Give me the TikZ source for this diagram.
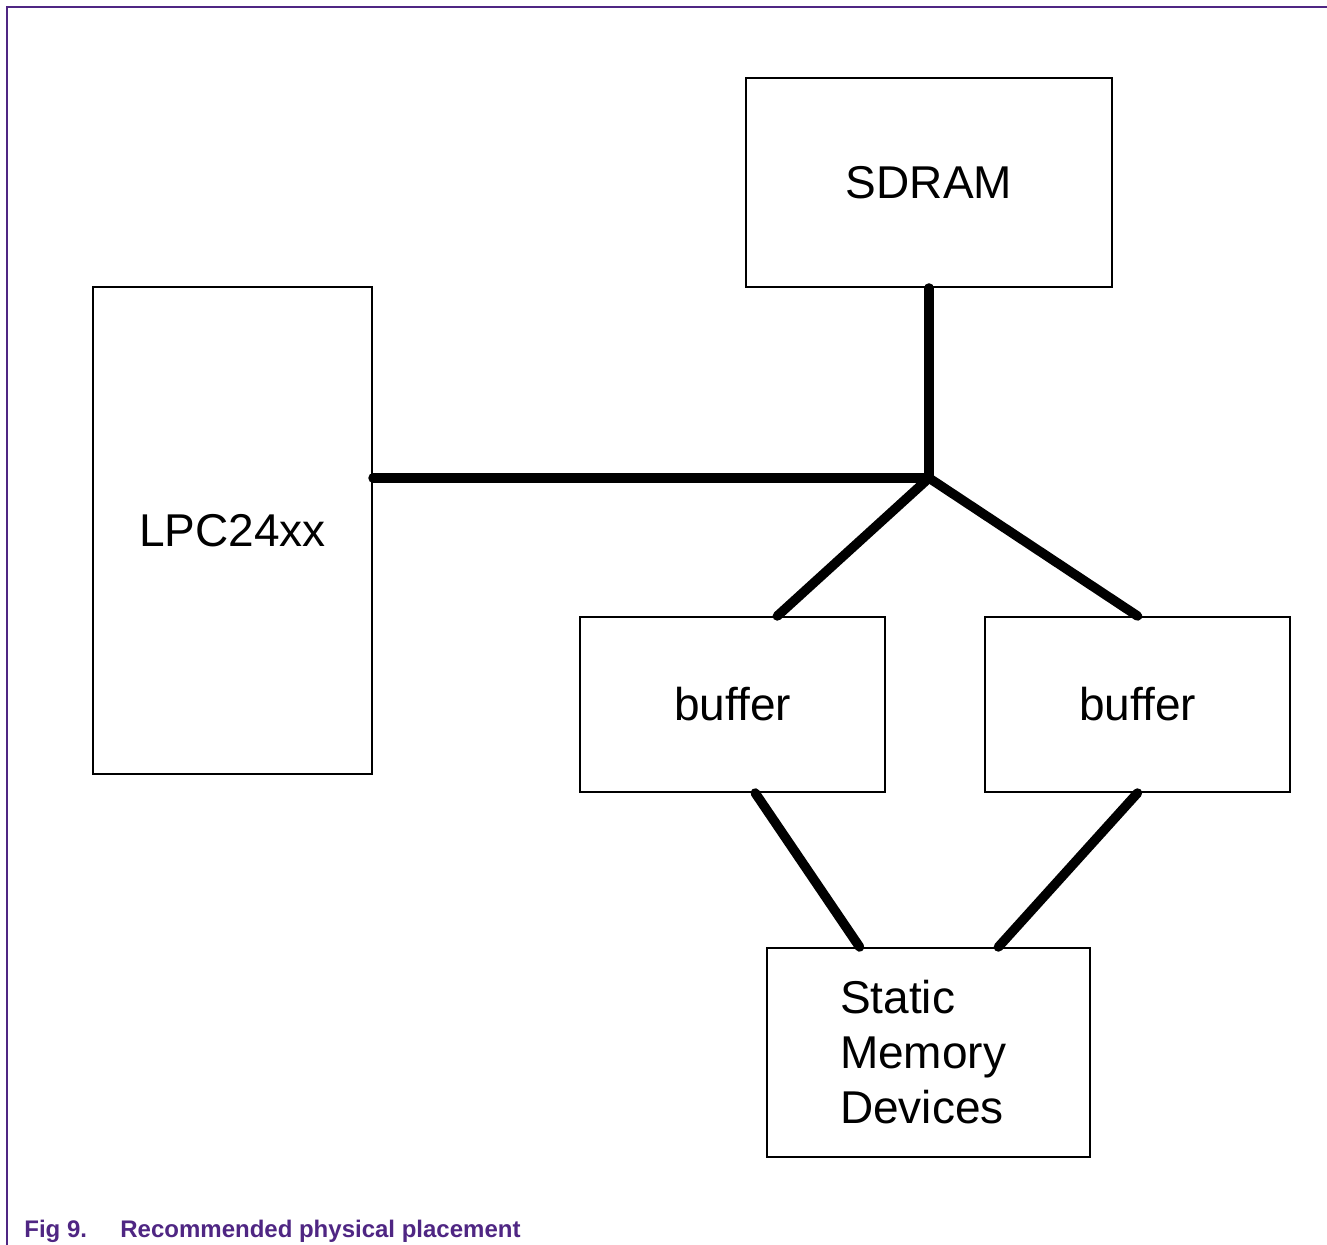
\documentclass[tikz,border=0pt]{standalone}
\usepackage{fontspec}
\setmainfont{Liberation Sans}
\usetikzlibrary{positioning,calc}
\definecolor{nxppurple}{HTML}{4F2683}

\tikzset{
  blk/.style={draw, line width=1pt, inner sep=0pt, font=\fontsize{23}{27.5}\selectfont},
  bus/.style={line width=4.75pt, line cap=round, line join=round},
  figcap/.style={anchor=base west, inner sep=0pt, text=nxppurple, font=\bfseries\fontsize{12}{14}\selectfont},
}

\begin{document}
\begin{tikzpicture}[x=0.5pt,y=-0.5pt]
        \useasboundingbox (0,0) rectangle (1327,1245);
        % Page frame
        \draw[nxppurple, line width=1pt] (1327,7) -- (7,7) -- (7,1245);

        % Blocks
        \node[blk, minimum width=183pt, minimum height=104.5pt] (sdram) at (929,182.5) {SDRAM};
        \node[blk, minimum width=139.5pt, minimum height=243.5pt] (lpc) at (232.5,530.5) {LPC24xx};
        \node[blk, minimum width=152.5pt, minimum height=87.5pt] (buf1) at (732.5,704.5) {buffer};
        \node[blk, minimum width=152.5pt, minimum height=87.5pt] (buf2) at (1137.5,704.5) {buffer};
        \node[blk, minimum height=104.5pt, inner xsep=36.5pt, text width=88.5pt, align=left] (smd) at (928.5,1052.5) {Static\\Memory\\Devices};

        % Bus
        \coordinate (hub) at (929,478);
        \draw[bus] (sdram.south) -- (hub);
        \draw[bus] (lpc.east |- hub) -- (hub);
        \draw[bus] (hub) -- ($(buf1.north west)!0.646!(buf1.north east)$);
        \draw[bus] (hub) -- (buf2.north);
        \draw[bus] ($(buf1.south west)!0.574!(buf1.south east)$) -- ($(smd.north west)!0.288!(smd.north east)$);
        \draw[bus] (buf2.south) -- ($(smd.north west)!0.715!(smd.north east)$);

        % Caption
        \node[figcap] (fignum) at (24,1237) {Fig 9.};
        \node[figcap] (figtitle) at (120,1237) {Recommended physical placement};
    \end{tikzpicture}
\end{document}
